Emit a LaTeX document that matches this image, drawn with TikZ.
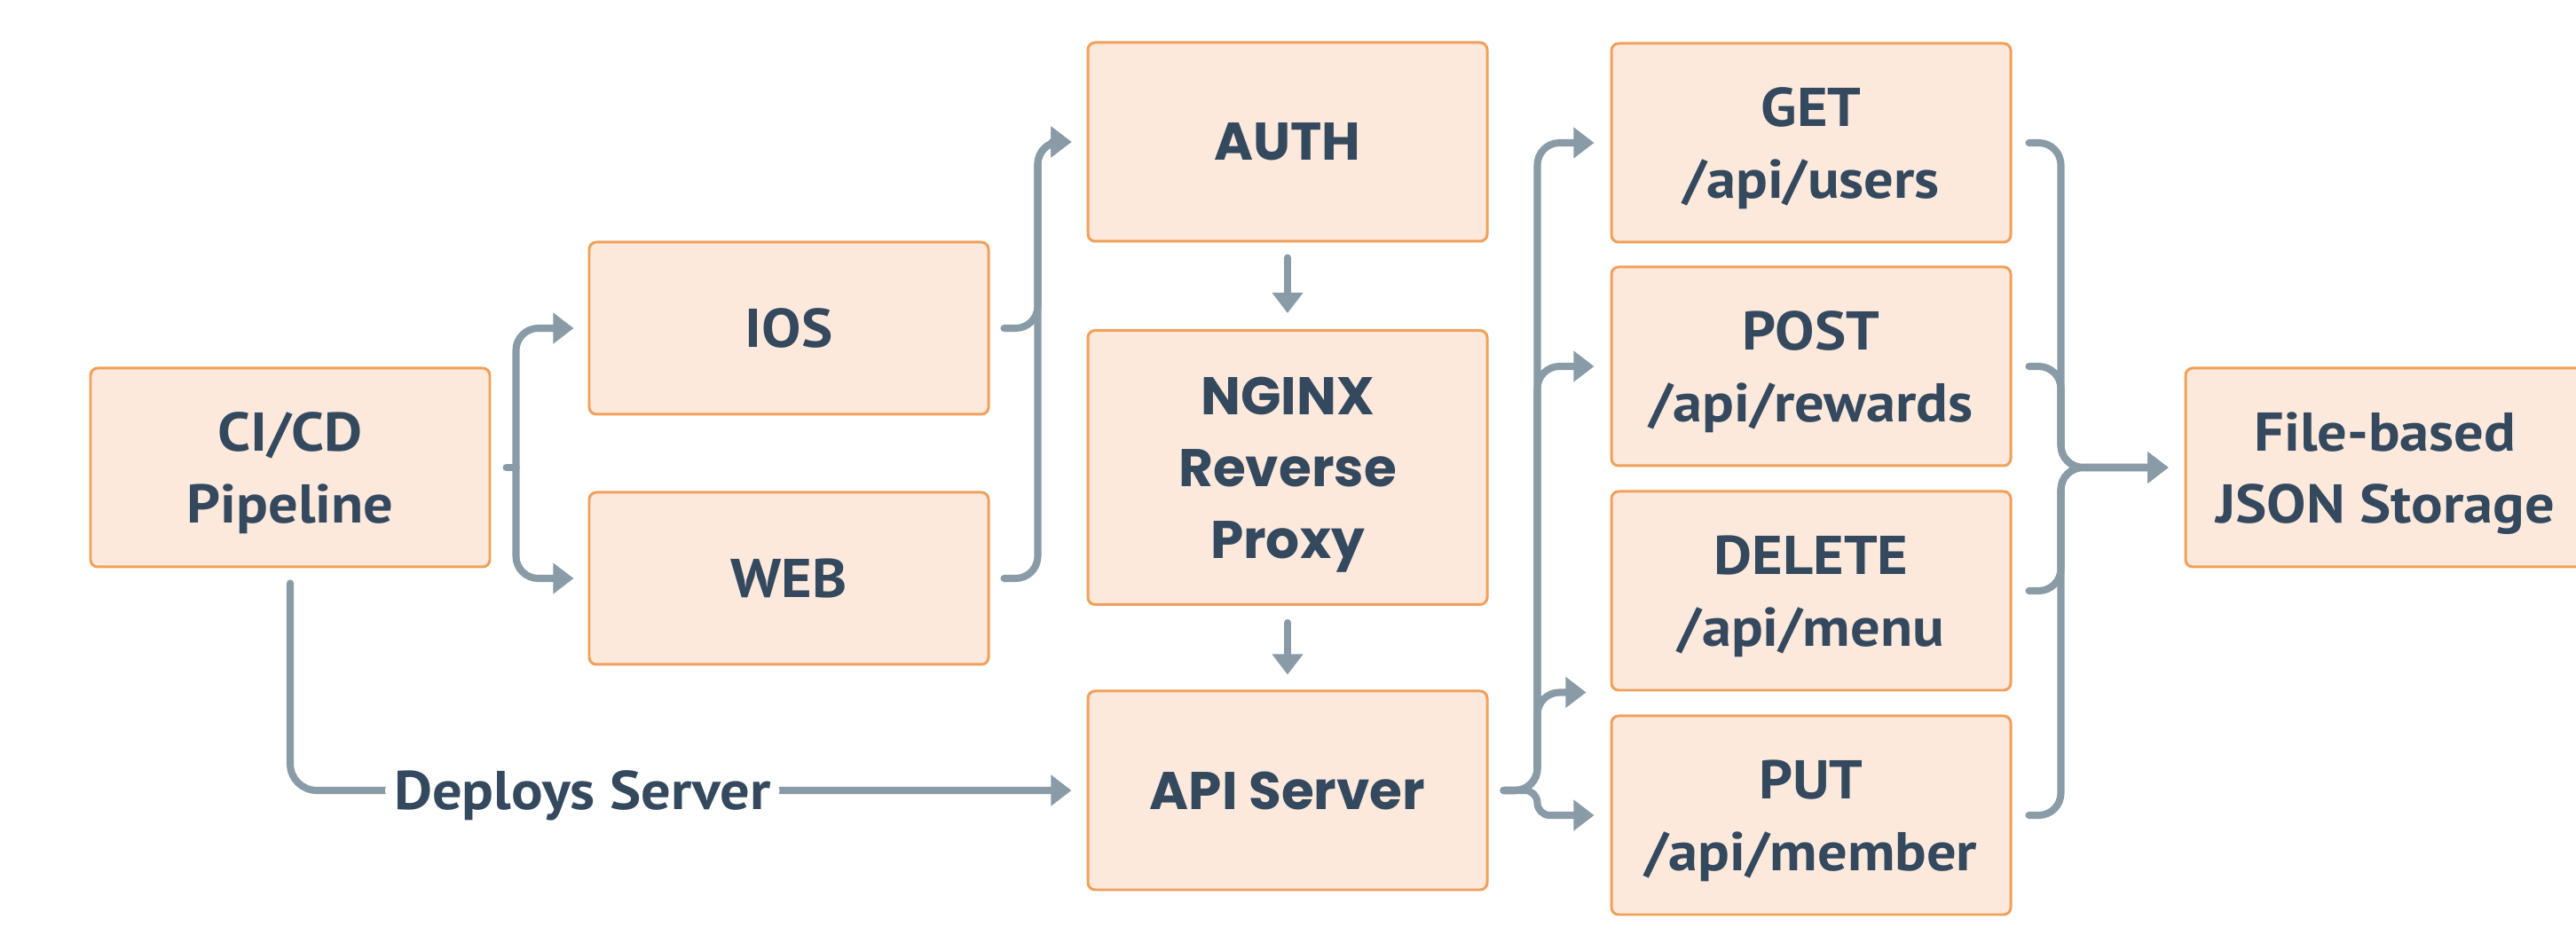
\documentclass[tikz,border=0pt]{standalone}
\usepackage{fontspec}
\usepackage{tikz}
\usetikzlibrary{arrows.meta}
\newfontfamily\dinfont{PT Sans}[FakeStretch=1.08]
\newfontfamily\geofont{Poppins}
\definecolor{ink}{HTML}{34495E}
\definecolor{peach}{HTML}{FCE9DC}
\definecolor{edge}{HTML}{F0A05A}
\definecolor{wire}{HTML}{8A9BA8}
\tikzset{
  box/.style={draw=edge, fill=peach, line width=0.85pt, rounded corners=0.08cm,
    minimum width=4.5cm, minimum height=2.24cm, inner sep=0pt, align=center,
    text depth=0pt, text=ink, font=\dinfont\bfseries\fontsize{17.5}{23}\selectfont},
  geo/.style={font=\geofont\bfseries\fontsize{17}{23}\selectfont},
  link/.style={draw=wire, line width=2.3pt, line cap=round, rounded corners=0.25cm},
  flow/.style={link, -{Triangle[length=6.6pt,width=9.6pt]}},
  lbl/.style={fill=white, text=ink, inner xsep=0.1cm, inner ysep=0.05cm, text depth=0pt,
    font=\dinfont\bfseries\fontsize{17.5}{23}\selectfont},
}

\begin{document}
\begin{tikzpicture}
  \useasboundingbox (0,0) rectangle (29.03,-10.72);
  % boxes
  \node[box] (cicd) at (3.27,-5.27) {CI/CD\\Pipeline};
  \node[box, minimum height=1.94cm] (ios) at (8.89,-3.70) {IOS};
  \node[box, minimum height=1.94cm] (web) at (8.89,-6.52) {WEB};
  \node[box, geo] (auth) at (14.51,-1.60) {AUTH};
  \node[box, geo, minimum height=3.09cm] (nginx) at (14.51,-5.27) {NGINX\\Reverse\\Proxy};
  \node[box, geo] (api) at (14.51,-8.91) {API Server};
  \node[box] (get) at (20.41,-1.61) {GET\\/api/users};
  \node[box] (post) at (20.41,-4.13) {POST\\/api/rewards};
  \node[box] (del) at (20.41,-6.66) {DELETE\\/api/menu};
  \node[box] (put) at (20.41,-9.19) {PUT\\/api/member};
  \node[box] (store) at (26.88,-5.27) {File-based\\JSON Storage};

  % pipeline to clients
  \draw[link] ([xshift=0.17cm]cicd.east) -- ++(0.11,0) coordinate (fork);
  \draw[flow] (fork) |- ([xshift=-0.16cm]ios.west);
  \draw[flow] (fork) |- ([xshift=-0.16cm]web.west);
  % clients to auth
  \draw[flow] ([xshift=0.16cm]ios.east) -- ++(0.38,0) |- ([xshift=-0.17cm]auth.west);
  \draw[flow] ([xshift=0.16cm]web.east) -- ++(0.38,0) |- ([xshift=-0.17cm]auth.west);
  % down the stack
  \draw[flow] ([yshift=-0.17cm]auth.south) -- ([yshift=0.18cm]nginx.north);
  \draw[flow] ([yshift=-0.19cm]nginx.south) -- ([yshift=0.17cm]api.north);
  \draw[flow, rounded corners=0.3cm] ([yshift=-0.17cm]cicd.south)
    |- node[lbl, pos=0.687] {Deploys Server} ([xshift=-0.17cm]api.west);
  % api to endpoints
  \draw[flow] ([xshift=0.17cm]api.east) -- ++(0.38,0) |- ([xshift=-0.18cm]get.west);
  \draw[flow] ([xshift=0.17cm]api.east) -- ++(0.38,0) |- ([xshift=-0.18cm]post.west);
  \draw[flow] ([xshift=0.17cm]api.east) -- ++(0.38,0) |- ([shift={(-0.27,-0.01)}]del.south west);
  \draw[flow, rounded corners=0.14cm] ([xshift=0.17cm]api.east) -- ++(0.38,0) |- ([xshift=-0.18cm]put.west);
  % endpoints to storage
  \draw[flow] ([xshift=0.19cm]get.east) -- ++(0.36,0) |- ([xshift=-0.18cm]store.west);
  \draw[flow] ([xshift=0.19cm]post.east) -- ++(0.36,0) |- ([xshift=-0.18cm]store.west);
  \draw[flow] ([xshift=0.19cm]del.east) -- ++(0.36,0) |- ([xshift=-0.18cm]store.west);
  \draw[flow] ([xshift=0.19cm]put.east) -- ++(0.36,0) |- ([xshift=-0.18cm]store.west);
\end{tikzpicture}
\end{document}
